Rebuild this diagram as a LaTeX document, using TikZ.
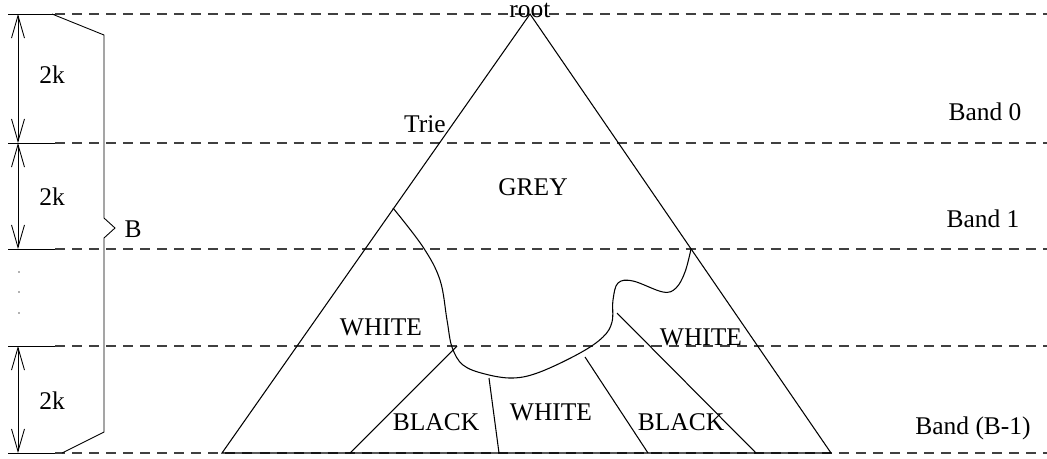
\documentclass[tikz,border=0pt]{standalone}
\usepackage{fontspec}
\setmainfont{Liberation Serif}
\usetikzlibrary{arrows.meta}
\tikzset{
  base/.style={font=\fontsize{14.5}{17}\selectfont, inner sep=0pt, text=black},
  lbl/.style={base, anchor=base},
  bandline/.style={line width=0.6pt, dash pattern=on 5.7pt off 4pt, draw=black!75},
  edge/.style={line width=0.6pt, draw=black},
  dimarr/.style={line width=0.5pt, {Straight Barb[length=4.5mm,width=2.6mm]}-{Straight Barb[length=4.5mm,width=2.6mm]}},
}
\begin{document}
\begin{tikzpicture}[x=0.02cm,y=-0.02cm]
  \useasboundingbox (0,0) rectangle (1047,458);
  % band boundaries
  \foreach \n/\y in {l0/14,l1/143,l2/249,l3/346,l4/453}{
    \coordinate (\n w) at (8,\y);
    \coordinate (\n m) at (55,\y);
    \coordinate (\n e) at (1047,\y);
    \draw[edge,line width=0.5pt] (\n w) -- (\n m);
    \draw[bandline] (\n m) -- (\n e);
  }
  % trie
  \coordinate (apex) at (530,14);
  \coordinate (bl) at (222,453);
  \coordinate (br) at (831,453);
  \draw[edge] (bl) -- (apex) -- (br) -- cycle;
  % grey frontier
  \draw[edge] plot[smooth,tension=0.6] coordinates {(393,208) (423,247) (440,280) (447,320) (452,347) (463,365) (485,374) (513,378) (540,372) (580,353) (603,337) (612,322) (613,300) (618,283) (633,281) (663,292) (676,288) (685,272) (691,249)};
  % black/white splits
  \coordinate (s1a) at (457,346); \coordinate (s1b) at (350,453);
  \coordinate (s2a) at (489,378); \coordinate (s2b) at (499,453);
  \coordinate (s3a) at (585,357); \coordinate (s3b) at (648,453);
  \coordinate (s4a) at (617,313); \coordinate (s4b) at (756,453);
  \foreach \s in {s1,s2,s3,s4}{\draw[edge] (\s a) -- (\s b);}
  % dimensions
  \foreach \a/\b in {l0/l1,l1/l2,l3/l4}{\draw[dimarr] ([xshift=10*0.02cm]\a w) -- ([xshift=10*0.02cm]\b w);}
  \foreach \y in {272,292,313}{\fill[black!60] (19,\y) circle (0.5pt);}
  \draw[edge,line width=0.5pt] (52,14) -- (104,35) -- (104,218) -- (115,228) -- (104,238) -- (104,432) -- (62,453);
  % labels
  \node[lbl] (k0) at (52,83) {2k};
  \node[lbl] (k1) at (52,205) {2k};
  \node[lbl] (k3) at (52,409) {2k};
  \node[lbl] (bb) at (133,237) {B};
  \node[lbl] (root) at (530,17) {root};
  \node[lbl] (trie) at (425,132) {Trie};
  \node[lbl] (grey) at (533,195) {GREY};
  \node[lbl] (wl) at (381,335) {WHITE};
  \node[lbl] (wr) at (701,345) {WHITE};
  \node[lbl] (bkl) at (436,430) {BLACK};
  \node[lbl] (wm) at (551,420) {WHITE};
  \node[lbl] (bkr) at (681,430) {BLACK};
  \node[lbl] (band0) at (985,120) {Band 0};
  \node[lbl] (band1) at (983,227) {Band 1};
  \node[lbl] (bandb) at (973,434) {Band (B-1)};
\end{tikzpicture}
\end{document}
